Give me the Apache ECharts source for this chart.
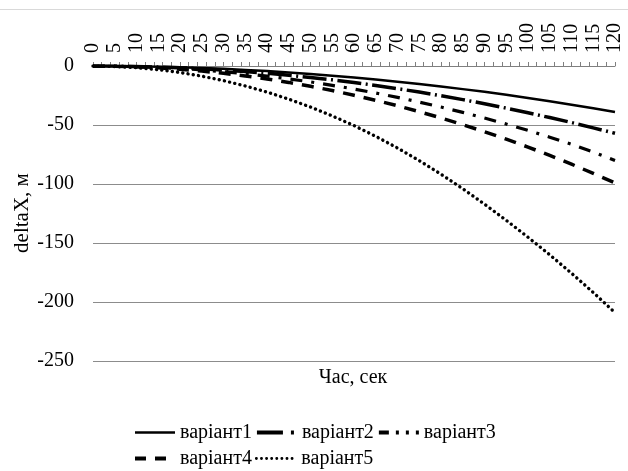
<!DOCTYPE html>
<html>
<head>
<meta charset="utf-8">
<script src="https://cdn.jsdelivr.net/npm/echarts@6/dist/echarts.min.js"></script>
<style>
  html, body { margin: 0; padding: 0; background: #fff; }
  #chart { width: 628px; height: 471px; }
</style>
</head>
<body>
<div id="chart"></div>
<script>
// Time samples, seconds
const timeSec = [0, 5, 10, 15, 20, 25, 30, 35, 40, 45, 50, 55, 60, 65, 70, 75, 80, 85, 90, 95, 100, 105, 110, 115, 120];

// Displacement deltaX (m) for each variant
const variant1 = [0, -0.1, -0.3, -0.6, -1.1, -1.7, -2.4, -3.3, -4.3, -5.5, -6.8, -8.2, -9.8, -11.4, -13.3, -15.2, -17.3, -19.6, -21.9, -24.4, -27.1, -29.9, -32.8, -35.8, -39];
const variant2 = [0, -0.1, -0.4, -0.9, -1.5, -2.4, -3.4, -4.7, -6.1, -7.8, -9.7, -11.7, -14, -16.5, -19.2, -22.1, -25.2, -28.5, -32, -35.7, -39.6, -43.7, -47.9, -52.4, -57];
const variant3 = [0, -0.1, -0.5, -1.2, -2.1, -3.3, -4.8, -6.5, -8.6, -10.9, -13.5, -16.4, -19.5, -22.9, -26.6, -30.6, -34.8, -39.3, -44.1, -49.2, -54.6, -60.3, -66.3, -72.9, -80];
const variant4 = [0, -0.2, -0.7, -1.5, -2.8, -4.3, -6.2, -8.4, -11, -13.9, -17.2, -20.8, -24.8, -29.1, -33.7, -38.7, -44, -49.7, -55.7, -62, -68.7, -75.8, -83.2, -91, -99];
const variant5 = [0, -0.4, -1.4, -3.1, -5.5, -8.6, -12.4, -16.9, -22.1, -28.1, -34.8, -42.3, -50.5, -59.6, -69.5, -80.2, -91.7, -104, -117.1, -130.8, -145.1, -160, -175.6, -191.9, -209];

const seriesNames = ['варіант1', 'варіант2', 'варіант3', 'варіант4', 'варіант5'];

// Axis settings
const xMin = 0, xMax = 120, xLabelStep = 5, xTickStep = 2;
const yMin = -250, yMax = 0, yStep = 50;

const FONT = "'Liberation Serif', 'Times New Roman', serif";

function pairs(values) {
  return timeSec.map((t, i) => [t, values[i]]);
}

const lineLooks = [
  { width: 2.5, type: 'solid', cap: 'butt' },
  { width: 3.5, type: [24, 4.5, 2, 4.5], cap: 'butt' },
  { width: 3.2, type: [12, 9, 3, 9], cap: 'butt' },
  { width: 3.5, type: [12, 9], cap: 'butt' },
  { width: 3.4, type: [0.1, 5.2], cap: 'round' }
];

// legend swatches are drawn a little heavier, as in the printed key
const legendLooks = [
  { width: 2.5, type: 'solid', cap: 'butt' },
  { width: 4, type: [26, 8, 3, 8], cap: 'butt' },
  { width: 4, type: [10, 7, 3, 7, 3, 7], cap: 'butt' },
  { width: 4, type: [11, 9], cap: 'butt' },
  { width: 2.8, type: [0.1, 5], cap: 'round' }
];

const allValues = [variant1, variant2, variant3, variant4, variant5];

const chart = echarts.init(document.getElementById('chart'), null, { renderer: 'canvas' });

chart.setOption({
  animation: false,
  backgroundColor: '#fff',
  textStyle: { fontFamily: FONT },
  grid: { left: 93, right: 13, top: 66, bottom: 110, containLabel: false },
  xAxis: [
    {
      // axis line with tick marks every 2 s
      type: 'value', position: 'top', min: xMin, max: xMax, interval: xTickStep,
      axisLine: { show: true, onZero: false, lineStyle: { color: '#7f7f7f', width: 1 } },
      axisTick: { show: true, length: 4, lineStyle: { color: '#7f7f7f', width: 1 } },
      axisLabel: { show: false },
      splitLine: { show: false }
    },
    {
      // labels every 5 s
      type: 'value', position: 'top', min: xMin, max: xMax, interval: xLabelStep,
      axisLine: { show: false },
      axisTick: { show: false },
      axisLabel: { show: true, rotate: 90, margin: 13, color: '#000', fontSize: 20, fontFamily: FONT },
      splitLine: { show: false }
    }
  ],
  yAxis: {
    type: 'value', min: yMin, max: yMax, interval: yStep,
    axisLine: { show: false },
    axisTick: { show: false },
    axisLabel: { margin: 19, color: '#000', fontSize: 20, fontFamily: FONT },
    splitLine: { show: true, lineStyle: { color: '#8c8c8c', width: 1 } }
  },
  legend: {
    left: 133, top: 421, width: 380, padding: 0,
    itemWidth: 40, itemHeight: 14, itemGap: 3,
    itemStyle: { opacity: 0, borderWidth: 0 },
    textStyle: { color: '#000', fontSize: 20, fontFamily: FONT, lineHeight: 23 },
    data: seriesNames.map((name, i) => ({
      name: name,
      lineStyle: { width: legendLooks[i].width, type: legendLooks[i].type, cap: legendLooks[i].cap, color: '#000' }
    }))
  },
  graphic: [
    { type: 'line', shape: { x1: 0, y1: 9.5, x2: 628, y2: 9.5 }, style: { stroke: '#d9d9d9', lineWidth: 1 } },
    { type: 'text', x: 353, y: 378, style: { text: 'Час, сек', font: '20px ' + FONT, fill: '#000', align: 'center', verticalAlign: 'middle' } },
    { type: 'text', x: 22, y: 213, rotation: Math.PI / 2, style: { text: 'deltaX, м', font: '21px ' + FONT, fill: '#000', align: 'center', verticalAlign: 'middle' } }
  ],
  series: allValues.map((vals, i) => ({
    name: seriesNames[i],
    type: 'line',
    xAxisIndex: 0,
    data: pairs(vals),
    showSymbol: false,
    symbol: 'none',
    color: '#000',
    lineStyle: { color: '#000', width: lineLooks[i].width, type: lineLooks[i].type, cap: lineLooks[i].cap }
  }))
});
</script>
</body>
</html>
